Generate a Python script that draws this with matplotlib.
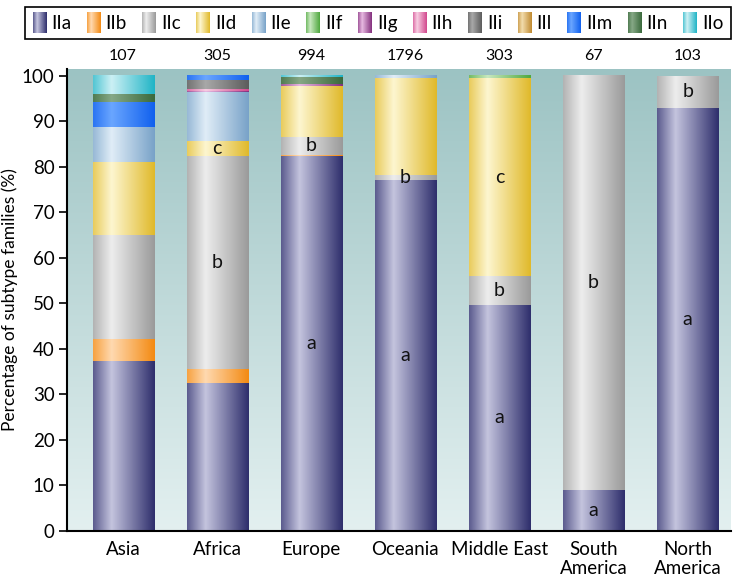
import numpy as np
import matplotlib
matplotlib.use("Agg")
import matplotlib.pyplot as plt
from matplotlib.colors import to_rgb
from matplotlib.legend_handler import HandlerBase
from matplotlib.image import BboxImage
from matplotlib.transforms import Bbox, TransformedBbox
from matplotlib.patches import Rectangle

plt.rcParams['font.family'] = ['Lato', 'DejaVu Sans']

regions = ['Asia', 'Africa', 'Europe', 'Oceania', 'Middle East', 'South\nAmerica', 'North\nAmerica']
counts = [107, 305, 994, 1796, 303, 67, 103]
subtypes = ['IIa', 'IIb', 'IIc', 'IId', 'IIe', 'IIf', 'IIg', 'IIh', 'IIi', 'IIl', 'IIm', 'IIn', 'IIo']

IIa = [37.3, 32.6, 82.4, 77.1, 49.7, 9.0, 93.0]
IIb = [4.8, 3.1, 0.2, 0, 0, 0, 0]
IIc = [23.0, 46.6, 4.0, 1.1, 6.3, 91.0, 7.0]
IId = [16.0, 3.3, 11.2, 21.3, 43.5, 0, 0]
IIe = [7.6, 10.8, 0, 0.5, 0, 0, 0]
IIf = [0, 0, 0, 0, 0.5, 0, 0]
IIg = [0, 0.3, 0.3, 0, 0, 0, 0]
IIh = [0, 0.3, 0, 0, 0, 0, 0]
IIi = [0, 2.0, 0, 0, 0, 0, 0]
IIl = [0, 0, 0, 0, 0, 0, 0]
IIm = [5.5, 1.0, 0, 0, 0, 0, 0]
IIn = [1.8, 0, 1.6, 0, 0, 0, 0]
IIo = [4.0, 0, 0.3, 0, 0, 0, 0]
series = [IIa, IIb, IIc, IId, IIe, IIf, IIg, IIh, IIi, IIl, IIm, IIn, IIo]

# letters marking groups inside segments
letters_IIa = ['', '', 'a', 'a', 'a', 'a', 'a']
letters_IIc = ['', 'b', 'b', 'b', 'b', 'b', 'b']
letters_IId = ['', 'c', '', '', 'c', '', '']

# (dark edge colour, highlight colour)
palette = {
    'IIa': ('#2e2e6c', '#c4c4de'),
    'IIb': ('#f38a12', '#ffd9b0'),
    'IIc': ('#9a9a9a', '#ededed'),
    'IId': ('#e0b92a', '#fdf6d0'),
    'IIe': ('#78a2c8', '#e0edf7'),
    'IIf': ('#4fa83e', '#c8e8bf'),
    'IIg': ('#84307e', '#e6b8e0'),
    'IIh': ('#d2488e', '#f7cde2'),
    'IIi': ('#5c5c5c', '#a8a8a8'),
    'IIl': ('#c08a30', '#f2dcac'),
    'IIm': ('#1060ee', '#6aa6ff'),
    'IIn': ('#3a6a3c', '#86a886'),
    'IIo': ('#20b4c6', '#ccf0f4'),
}


def grad(name, n=128):
    dark = np.array(to_rgb(palette[name][0]))
    light = np.array(to_rgb(palette[name][1]))
    t = np.linspace(0, 1, n)
    m = np.interp(t, [0, 0.3, 1], [0.3, 1.0, 0.0])
    img = dark[None, :] + (light - dark)[None, :] * m[:, None]
    return img[None, :, :]


W, H = 733, 577
fig = plt.figure(figsize=(W / 100, H / 100), dpi=100)
ax = fig.add_axes([67 / W, 1 - 531 / H, (731 - 67) / W, (531 - 69) / H])

# background gradient
bg_top = np.array(to_rgb('#9cc3c3'))
bg_bot = np.array(to_rgb('#e3f0f0'))
tt = np.linspace(0, 1, 256)[:, None]
bg = bg_top[None, :] * (1 - tt) + bg_bot[None, :] * tt
ax.imshow(bg[:, None, :], extent=[0, 1, 0, 1], transform=ax.transAxes,
          aspect='auto', zorder=0, interpolation='bilinear')

x = np.arange(len(regions))
width = 0.65
bottom = np.zeros(len(regions))
seg_mid = {}
for name, vals in zip(subtypes, series):
    vals = np.array(vals, dtype=float)
    bars = ax.bar(x, vals, width, bottom=bottom, facecolor='none', edgecolor='none', zorder=2)
    img = grad(name)
    for p, v in zip(bars.patches, vals):
        if v <= 0:
            continue
        x0, y0 = p.get_x(), p.get_y()
        ax.imshow(img, extent=[x0, x0 + p.get_width(), y0, y0 + p.get_height()],
                  aspect='auto', zorder=2, interpolation='bilinear')
    seg_mid[name] = bottom + vals / 2
    bottom = bottom + vals

for name, labs in [('IIa', letters_IIa), ('IIc', letters_IIc), ('IId', letters_IId)]:
    for xi, (lab, ym) in enumerate(zip(labs, seg_mid[name])):
        if lab:
            ax.text(xi, ym, lab, ha='center', va='center', fontsize=14, color='#111111', zorder=4)

for xi, c in enumerate(counts):
    ax.text(xi, 104.3, str(c), ha='center', va='center', fontsize=11.5, clip_on=False)

ax.set_xlim(-0.596, 6.46)
ax.set_ylim(0, 101.5)
ax.set_yticks(np.arange(0, 101, 10))
ax.set_xticks(x)
ax.set_xticklabels(regions, fontsize=13.5, linespacing=1.15, va='top')
ax.tick_params(axis='x', length=0, pad=7)
ax.tick_params(axis='y', length=6, width=1.2, labelsize=13.5, pad=3)
for s in ['top', 'right']:
    ax.spines[s].set_visible(False)
for s in ['left', 'bottom']:
    ax.spines[s].set_linewidth(1.5)
ax.set_ylabel('Percentage of subtype families (%)', fontsize=12.5, labelpad=3)


class GradHandler(HandlerBase):
    def create_artists(self, legend, orig_handle, xdescent, ydescent, width, height, fontsize, trans):
        name = orig_handle.get_label()
        bb = TransformedBbox(Bbox.from_bounds(-xdescent, -ydescent - 0.1 * height,
                                              width, height * 1.25), trans)
        im = BboxImage(bb, interpolation='bilinear')
        im.set_data(grad(name))
        return [im]


handles = [Rectangle((0, 0), 1, 1, label=n) for n in subtypes]
leg = fig.legend(handles=handles, labels=subtypes, ncol=13, mode='expand',
                 bbox_to_anchor=(25 / W, 1 - 43 / H, 706 / W, 40 / H), loc='center',
                 handler_map={Rectangle: GradHandler()}, fontsize=13.5,
                 handlelength=0.7, handleheight=1.0, handletextpad=0.3,
                 columnspacing=0.5, borderaxespad=0, fancybox=False,
                 edgecolor='black', framealpha=1)
leg.get_frame().set_linewidth(1.2)

fig.savefig('out.png', dpi=100)
